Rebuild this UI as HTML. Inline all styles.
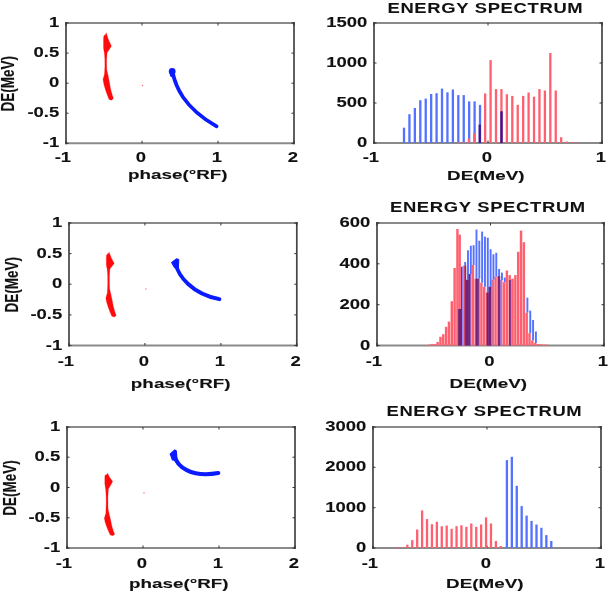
<!DOCTYPE html>
<html><head><meta charset="utf-8"><style>
html,body{margin:0;padding:0;background:#fff;}
svg{display:block;}
text{font-family:"Liberation Sans",sans-serif;font-weight:bold;fill:#111;stroke:#111;stroke-width:0.1px;}
svg{filter:blur(0.55px);}
</style></head><body>
<svg width="608" height="593" viewBox="0 0 608 593">
<rect width="608" height="593" fill="#fff"/>
<path d="M65,23 H295 M65,143.3 H295" stroke="#8a8a8a" stroke-width="2.1" fill="none"/>
<path d="M66,22 V144.3 M294,22 V144.3" stroke="#454545" stroke-width="1.7" fill="none"/>
<path d="M66.0,143.3 v-2.5 M66.0,23 v2.5" stroke="#333" stroke-width="1"/>
<text transform="translate(62.90,161.82) scale(1.320,1)" text-anchor="middle" font-size="14" >-1</text>
<path d="M142.0,143.3 v-2.5 M142.0,23 v2.5" stroke="#333" stroke-width="1"/>
<text transform="translate(140.90,161.82) scale(1.320,1)" text-anchor="middle" font-size="14" >0</text>
<path d="M218.0,143.3 v-2.5 M218.0,23 v2.5" stroke="#333" stroke-width="1"/>
<text transform="translate(216.90,161.82) scale(1.320,1)" text-anchor="middle" font-size="14" >1</text>
<path d="M294.0,143.3 v-2.5 M294.0,23 v2.5" stroke="#333" stroke-width="1"/>
<text transform="translate(292.90,161.82) scale(1.320,1)" text-anchor="middle" font-size="14" >2</text>
<path d="M66,143.3 h2.5 M294,143.3 h-2.5" stroke="#333" stroke-width="1"/>
<text transform="translate(59.20,147.30) scale(1.320,1)" text-anchor="end" font-size="14" >-1</text>
<path d="M66,113.2 h2.5 M294,113.2 h-2.5" stroke="#333" stroke-width="1"/>
<text transform="translate(59.20,117.23) scale(1.320,1)" text-anchor="end" font-size="14" >-0.5</text>
<path d="M66,83.2 h2.5 M294,83.2 h-2.5" stroke="#333" stroke-width="1"/>
<text transform="translate(59.20,87.15) scale(1.320,1)" text-anchor="end" font-size="14" >0</text>
<path d="M66,53.1 h2.5 M294,53.1 h-2.5" stroke="#333" stroke-width="1"/>
<text transform="translate(59.20,57.08) scale(1.320,1)" text-anchor="end" font-size="14" >0.5</text>
<path d="M66,23.0 h2.5 M294,23.0 h-2.5" stroke="#333" stroke-width="1"/>
<text transform="translate(59.20,27.00) scale(1.320,1)" text-anchor="end" font-size="14" >1</text>
<text transform="translate(177.80,179.48) scale(1.450,1)" text-anchor="middle" font-size="13.0" >phase(°RF)</text>
<text transform="translate(14.40,83.65) rotate(-90) scale(1,1.360)" text-anchor="middle" font-size="13.5">DE(MeV)</text>
<path d="M373,23 H603 M373,143 H603" stroke="#8a8a8a" stroke-width="2.1" fill="none"/>
<path d="M374,22 V144 M602,22 V144" stroke="#454545" stroke-width="1.7" fill="none"/>
<path d="M374.0,143 v-2.5 M374.0,23 v2.5" stroke="#333" stroke-width="1"/>
<text transform="translate(370.90,161.92) scale(1.320,1)" text-anchor="middle" font-size="14" >-1</text>
<path d="M488.0,143 v-2.5 M488.0,23 v2.5" stroke="#333" stroke-width="1"/>
<text transform="translate(486.90,161.92) scale(1.320,1)" text-anchor="middle" font-size="14" >0</text>
<path d="M602.0,143 v-2.5 M602.0,23 v2.5" stroke="#333" stroke-width="1"/>
<text transform="translate(600.90,161.92) scale(1.320,1)" text-anchor="middle" font-size="14" >1</text>
<path d="M374,143.0 h2.5 M602,143.0 h-2.5" stroke="#333" stroke-width="1"/>
<text transform="translate(367.20,147.00) scale(1.320,1)" text-anchor="end" font-size="14" >0</text>
<path d="M374,103.0 h2.5 M602,103.0 h-2.5" stroke="#333" stroke-width="1"/>
<text transform="translate(367.20,107.00) scale(1.320,1)" text-anchor="end" font-size="14" >500</text>
<path d="M374,63.0 h2.5 M602,63.0 h-2.5" stroke="#333" stroke-width="1"/>
<text transform="translate(367.20,67.00) scale(1.320,1)" text-anchor="end" font-size="14" >1000</text>
<path d="M374,23.0 h2.5 M602,23.0 h-2.5" stroke="#333" stroke-width="1"/>
<text transform="translate(367.20,27.00) scale(1.320,1)" text-anchor="end" font-size="14" >1500</text>
<text transform="translate(485.80,179.98) scale(1.450,1)" text-anchor="middle" font-size="13.0" >DE(MeV)</text>
<text transform="translate(485.40,12.86) scale(1.336,1)" text-anchor="middle" font-size="13.8" letter-spacing="0.5" style="stroke-width:0.05px">ENERGY SPECTRUM</text>
<path d="M68,223 H297.8 M68,345.5 H297.8" stroke="#8a8a8a" stroke-width="2.1" fill="none"/>
<path d="M69,222 V346.5 M296.8,222 V346.5" stroke="#454545" stroke-width="1.7" fill="none"/>
<path d="M69.0,345.5 v-2.5 M69.0,223 v2.5" stroke="#333" stroke-width="1"/>
<text transform="translate(65.90,366.32) scale(1.320,1)" text-anchor="middle" font-size="14" >-1</text>
<path d="M144.9,345.5 v-2.5 M144.9,223 v2.5" stroke="#333" stroke-width="1"/>
<text transform="translate(143.83,366.32) scale(1.320,1)" text-anchor="middle" font-size="14" >0</text>
<path d="M220.9,345.5 v-2.5 M220.9,223 v2.5" stroke="#333" stroke-width="1"/>
<text transform="translate(219.77,366.32) scale(1.320,1)" text-anchor="middle" font-size="14" >1</text>
<path d="M296.8,345.5 v-2.5 M296.8,223 v2.5" stroke="#333" stroke-width="1"/>
<text transform="translate(295.70,366.32) scale(1.320,1)" text-anchor="middle" font-size="14" >2</text>
<path d="M69,345.5 h2.5 M296.8,345.5 h-2.5" stroke="#333" stroke-width="1"/>
<text transform="translate(62.20,349.50) scale(1.320,1)" text-anchor="end" font-size="14" >-1</text>
<path d="M69,314.9 h2.5 M296.8,314.9 h-2.5" stroke="#333" stroke-width="1"/>
<text transform="translate(62.20,318.88) scale(1.320,1)" text-anchor="end" font-size="14" >-0.5</text>
<path d="M69,284.2 h2.5 M296.8,284.2 h-2.5" stroke="#333" stroke-width="1"/>
<text transform="translate(62.20,288.25) scale(1.320,1)" text-anchor="end" font-size="14" >0</text>
<path d="M69,253.6 h2.5 M296.8,253.6 h-2.5" stroke="#333" stroke-width="1"/>
<text transform="translate(62.20,257.62) scale(1.320,1)" text-anchor="end" font-size="14" >0.5</text>
<path d="M69,223.0 h2.5 M296.8,223.0 h-2.5" stroke="#333" stroke-width="1"/>
<text transform="translate(62.20,227.00) scale(1.320,1)" text-anchor="end" font-size="14" >1</text>
<text transform="translate(180.70,388.28) scale(1.450,1)" text-anchor="middle" font-size="13.0" >phase(°RF)</text>
<text transform="translate(17.60,284.75) rotate(-90) scale(1,1.360)" text-anchor="middle" font-size="13.5">DE(MeV)</text>
<path d="M376,223 H605 M376,345.5 H605" stroke="#8a8a8a" stroke-width="2.1" fill="none"/>
<path d="M377,222 V346.5 M604,222 V346.5" stroke="#454545" stroke-width="1.7" fill="none"/>
<path d="M377.0,345.5 v-2.5 M377.0,223 v2.5" stroke="#333" stroke-width="1"/>
<text transform="translate(373.90,366.02) scale(1.320,1)" text-anchor="middle" font-size="14" >-1</text>
<path d="M490.5,345.5 v-2.5 M490.5,223 v2.5" stroke="#333" stroke-width="1"/>
<text transform="translate(489.40,366.02) scale(1.320,1)" text-anchor="middle" font-size="14" >0</text>
<path d="M604.0,345.5 v-2.5 M604.0,223 v2.5" stroke="#333" stroke-width="1"/>
<text transform="translate(602.90,366.02) scale(1.320,1)" text-anchor="middle" font-size="14" >1</text>
<path d="M377,345.5 h2.5 M604,345.5 h-2.5" stroke="#333" stroke-width="1"/>
<text transform="translate(370.20,349.50) scale(1.320,1)" text-anchor="end" font-size="14" >0</text>
<path d="M377,304.7 h2.5 M604,304.7 h-2.5" stroke="#333" stroke-width="1"/>
<text transform="translate(370.20,308.67) scale(1.320,1)" text-anchor="end" font-size="14" >200</text>
<path d="M377,263.8 h2.5 M604,263.8 h-2.5" stroke="#333" stroke-width="1"/>
<text transform="translate(370.20,267.83) scale(1.320,1)" text-anchor="end" font-size="14" >400</text>
<path d="M377,223.0 h2.5 M604,223.0 h-2.5" stroke="#333" stroke-width="1"/>
<text transform="translate(370.20,227.00) scale(1.320,1)" text-anchor="end" font-size="14" >600</text>
<text transform="translate(488.30,388.28) scale(1.450,1)" text-anchor="middle" font-size="13.0" >DE(MeV)</text>
<text transform="translate(487.90,212.26) scale(1.336,1)" text-anchor="middle" font-size="13.8" letter-spacing="0.5" style="stroke-width:0.05px">ENERGY SPECTRUM</text>
<path d="M66,427 H296 M66,548 H296" stroke="#8a8a8a" stroke-width="2.1" fill="none"/>
<path d="M67,426 V549 M295,426 V549" stroke="#454545" stroke-width="1.7" fill="none"/>
<path d="M67.0,548 v-2.5 M67.0,427 v2.5" stroke="#333" stroke-width="1"/>
<text transform="translate(63.90,567.82) scale(1.320,1)" text-anchor="middle" font-size="14" >-1</text>
<path d="M143.0,548 v-2.5 M143.0,427 v2.5" stroke="#333" stroke-width="1"/>
<text transform="translate(141.90,567.82) scale(1.320,1)" text-anchor="middle" font-size="14" >0</text>
<path d="M219.0,548 v-2.5 M219.0,427 v2.5" stroke="#333" stroke-width="1"/>
<text transform="translate(217.90,567.82) scale(1.320,1)" text-anchor="middle" font-size="14" >1</text>
<path d="M295.0,548 v-2.5 M295.0,427 v2.5" stroke="#333" stroke-width="1"/>
<text transform="translate(293.90,567.82) scale(1.320,1)" text-anchor="middle" font-size="14" >2</text>
<path d="M67,548.0 h2.5 M295,548.0 h-2.5" stroke="#333" stroke-width="1"/>
<text transform="translate(60.20,552.00) scale(1.320,1)" text-anchor="end" font-size="14" >-1</text>
<path d="M67,517.8 h2.5 M295,517.8 h-2.5" stroke="#333" stroke-width="1"/>
<text transform="translate(60.20,521.75) scale(1.320,1)" text-anchor="end" font-size="14" >-0.5</text>
<path d="M67,487.5 h2.5 M295,487.5 h-2.5" stroke="#333" stroke-width="1"/>
<text transform="translate(60.20,491.50) scale(1.320,1)" text-anchor="end" font-size="14" >0</text>
<path d="M67,457.2 h2.5 M295,457.2 h-2.5" stroke="#333" stroke-width="1"/>
<text transform="translate(60.20,461.25) scale(1.320,1)" text-anchor="end" font-size="14" >0.5</text>
<path d="M67,427.0 h2.5 M295,427.0 h-2.5" stroke="#333" stroke-width="1"/>
<text transform="translate(60.20,431.00) scale(1.320,1)" text-anchor="end" font-size="14" >1</text>
<text transform="translate(178.80,588.28) scale(1.450,1)" text-anchor="middle" font-size="13.0" >phase(°RF)</text>
<text transform="translate(15.90,488.00) rotate(-90) scale(1,1.360)" text-anchor="middle" font-size="13.5">DE(MeV)</text>
<path d="M372,427 H602 M372,548 H602" stroke="#8a8a8a" stroke-width="2.1" fill="none"/>
<path d="M373,426 V549 M601,426 V549" stroke="#454545" stroke-width="1.7" fill="none"/>
<path d="M373.0,548 v-2.5 M373.0,427 v2.5" stroke="#333" stroke-width="1"/>
<text transform="translate(369.90,567.82) scale(1.320,1)" text-anchor="middle" font-size="14" >-1</text>
<path d="M487.0,548 v-2.5 M487.0,427 v2.5" stroke="#333" stroke-width="1"/>
<text transform="translate(485.90,567.82) scale(1.320,1)" text-anchor="middle" font-size="14" >0</text>
<path d="M601.0,548 v-2.5 M601.0,427 v2.5" stroke="#333" stroke-width="1"/>
<text transform="translate(599.90,567.82) scale(1.320,1)" text-anchor="middle" font-size="14" >1</text>
<path d="M373,548.0 h2.5 M601,548.0 h-2.5" stroke="#333" stroke-width="1"/>
<text transform="translate(366.20,552.00) scale(1.320,1)" text-anchor="end" font-size="14" >0</text>
<path d="M373,507.7 h2.5 M601,507.7 h-2.5" stroke="#333" stroke-width="1"/>
<text transform="translate(366.20,511.67) scale(1.320,1)" text-anchor="end" font-size="14" >1000</text>
<path d="M373,467.3 h2.5 M601,467.3 h-2.5" stroke="#333" stroke-width="1"/>
<text transform="translate(366.20,471.33) scale(1.320,1)" text-anchor="end" font-size="14" >2000</text>
<path d="M373,427.0 h2.5 M601,427.0 h-2.5" stroke="#333" stroke-width="1"/>
<text transform="translate(366.20,431.00) scale(1.320,1)" text-anchor="end" font-size="14" >3000</text>
<text transform="translate(484.80,588.28) scale(1.450,1)" text-anchor="middle" font-size="13.0" >DE(MeV)</text>
<text transform="translate(484.40,416.46) scale(1.336,1)" text-anchor="middle" font-size="13.8" letter-spacing="0.5" style="stroke-width:0.05px">ENERGY SPECTRUM</text>
<path d="M106.3,32.8 L107.0,35.3 L108.5,39.7 L111.4,46.0 L109.3,49.5 L107.1,52.8 L106.6,60.2 L106.8,70.1 L108.0,75.0 L109.4,81.9 L110.5,88.4 L111.9,93.8 L113.4,98.4 L111.6,100.2 L109.0,99.4 L107.2,94.8 L105.5,89.9 L103.9,84.4 L103.0,79.5 L104.5,74.0 L104.9,66.1 L104.8,58.2 L104.4,53.3 L103.5,48.2 L103.5,41.2 L103.6,36.8 L104.6,34.9 L105.4,35.1Z" fill="#ff0a0a" stroke="#ff0a0a" stroke-width="0.25" stroke-linejoin="round"/>
<path d="M109.1,252.0 L109.8,254.1 L111.3,257.9 L114.2,263.2 L112.1,266.2 L109.9,268.9 L109.4,277.0 L109.6,288.4 L110.8,293.9 L112.2,300.3 L113.3,306.2 L114.7,311.2 L116.2,315.4 L114.4,317.0 L111.8,316.3 L110.0,312.1 L108.3,307.5 L106.7,302.5 L105.8,298.0 L107.3,293.0 L107.7,283.9 L107.6,274.7 L107.2,269.4 L106.3,265.1 L106.3,259.1 L106.4,255.4 L107.4,253.8 L108.2,253.9Z" fill="#ff0a0a" stroke="#ff0a0a" stroke-width="0.25" stroke-linejoin="round"/>
<path d="M107.6,473.3 L108.3,474.8 L109.8,477.6 L112.7,481.5 L110.6,485.3 L108.4,489.1 L107.9,497.7 L108.1,509.1 L109.3,514.4 L110.7,520.3 L111.8,525.8 L113.2,530.4 L114.7,534.3 L112.9,535.8 L110.3,535.1 L108.5,531.3 L106.8,527.1 L105.2,522.4 L104.3,518.2 L105.8,513.6 L106.2,504.5 L106.1,495.4 L105.7,489.7 L104.8,483.8 L104.8,478.5 L104.9,475.8 L105.9,474.6 L106.7,474.7Z" fill="#ff0a0a" stroke="#ff0a0a" stroke-width="0.25" stroke-linejoin="round"/>
<path d="M172.5,72 C175.5,86 183,107 216.6,126.4" fill="none" stroke="#0a1cff" stroke-width="3.7" stroke-linecap="round"/>
<circle cx="172.2" cy="71.5" r="3.4" fill="#0a1cff"/>
<ellipse cx="172.4" cy="74" rx="2.6" ry="3.2" fill="#0a1cff"/>
<path d="M175.5,263 C178,276 192,294 219.4,299.2" fill="none" stroke="#0a1cff" stroke-width="3.9" stroke-linecap="round"/>
<path d="M171.5,262.5 L176.5,258.7 L178.8,259.5 L178.4,267.5 L174.5,267.8 Z" fill="#0a1cff" stroke="#0a1cff" stroke-width="1" stroke-linejoin="round"/>
<path d="M174.5,456 C177,466 190,478 218.3,473.1" fill="none" stroke="#0a1cff" stroke-width="4.1" stroke-linecap="round"/>
<path d="M170.3,454 L174.8,450 L176.3,451 L177,460.5 L172.5,460 Z" fill="#0a1cff" stroke="#0a1cff" stroke-width="1.2" stroke-linejoin="round"/>
<circle cx="142.5" cy="85.5" r="0.7" fill="#ff6060"/>
<circle cx="146" cy="289" r="0.7" fill="#ff6060"/>
<circle cx="144" cy="493" r="0.7" fill="#ff6060"/>
<rect x="402.85" y="127.70" width="2.3" height="15.30" fill="#5472ff" />
<rect x="408.28" y="114.20" width="2.3" height="28.80" fill="#5472ff" />
<rect x="413.71" y="108.00" width="2.3" height="35.00" fill="#5472ff" />
<rect x="419.14" y="100.20" width="2.3" height="42.80" fill="#5472ff" />
<rect x="424.57" y="98.60" width="2.3" height="44.40" fill="#5472ff" />
<rect x="430.00" y="94.00" width="2.3" height="49.00" fill="#5472ff" />
<rect x="435.43" y="93.20" width="2.3" height="49.80" fill="#5472ff" />
<rect x="440.86" y="88.60" width="2.3" height="54.40" fill="#5472ff" />
<rect x="446.29" y="92.30" width="2.3" height="50.70" fill="#5472ff" />
<rect x="451.72" y="89.50" width="2.3" height="53.50" fill="#5472ff" />
<rect x="457.15" y="95.10" width="2.3" height="47.90" fill="#5472ff" />
<rect x="462.58" y="95.10" width="2.3" height="47.90" fill="#5472ff" />
<rect x="468.01" y="101.40" width="2.3" height="41.60" fill="#5472ff" />
<rect x="473.44" y="101.40" width="2.3" height="41.60" fill="#5472ff" />
<rect x="478.87" y="104.90" width="2.3" height="38.10" fill="#5472ff" />
<rect x="500.59" y="111.30" width="2.3" height="31.70" fill="#5472ff" />
<rect x="456.85" y="142.20" width="2.3" height="0.80" fill="#ff6070" />
<rect x="462.28" y="142.20" width="2.3" height="0.80" fill="#ff6070" />
<rect x="467.71" y="138.40" width="2.3" height="4.60" fill="#ff6070" />
<rect x="473.14" y="133.30" width="2.3" height="9.70" fill="#ff6070" />
<rect x="484.00" y="93.50" width="2.3" height="49.50" fill="#ff6070" />
<rect x="489.43" y="60.10" width="2.3" height="82.90" fill="#ff6070" />
<rect x="494.86" y="89.10" width="2.3" height="53.90" fill="#ff6070" />
<rect x="505.72" y="94.20" width="2.3" height="48.80" fill="#ff6070" />
<rect x="511.15" y="95.90" width="2.3" height="47.10" fill="#ff6070" />
<rect x="516.58" y="104.80" width="2.3" height="38.20" fill="#ff6070" />
<rect x="522.01" y="95.90" width="2.3" height="47.10" fill="#ff6070" />
<rect x="527.44" y="92.50" width="2.3" height="50.50" fill="#ff6070" />
<rect x="532.87" y="96.70" width="2.3" height="46.30" fill="#ff6070" />
<rect x="538.30" y="89.10" width="2.3" height="53.90" fill="#ff6070" />
<rect x="543.73" y="90.50" width="2.3" height="52.50" fill="#ff6070" />
<rect x="549.16" y="53.00" width="2.3" height="90.00" fill="#ff6070" />
<rect x="554.59" y="90.50" width="2.3" height="52.50" fill="#ff6070" />
<rect x="560.02" y="137.20" width="2.3" height="5.80" fill="#ff6070" />
<rect x="565.45" y="141.50" width="2.3" height="1.50" fill="#ff6070" />
<rect x="570.88" y="142.00" width="2.3" height="1.00" fill="#ff6070" />
<rect x="576.31" y="142.30" width="2.3" height="0.70" fill="#ff6070" />
<rect x="500.29" y="89.10" width="2.3" height="53.90" fill="#ff6070" />
<rect x="478.57" y="124.60" width="2.3" height="18.40" fill="#3c1690" />
<rect x="500.29" y="111.30" width="2.3" height="31.70" fill="#3c1690" />
<rect x="396.35" y="547.00" width="2.3" height="1.00" fill="#ff6070" />
<rect x="401.27" y="547.00" width="2.3" height="1.00" fill="#ff6070" />
<rect x="406.19" y="544.70" width="2.3" height="3.30" fill="#ff6070" />
<rect x="411.11" y="540.10" width="2.3" height="7.90" fill="#ff6070" />
<rect x="416.03" y="529.50" width="2.3" height="18.50" fill="#ff6070" />
<rect x="420.95" y="510.40" width="2.3" height="37.60" fill="#ff6070" />
<rect x="425.87" y="519.10" width="2.3" height="28.90" fill="#ff6070" />
<rect x="430.79" y="524.20" width="2.3" height="23.80" fill="#ff6070" />
<rect x="435.71" y="521.70" width="2.3" height="26.30" fill="#ff6070" />
<rect x="440.63" y="526.20" width="2.3" height="21.80" fill="#ff6070" />
<rect x="445.55" y="525.50" width="2.3" height="22.50" fill="#ff6070" />
<rect x="450.47" y="528.80" width="2.3" height="19.20" fill="#ff6070" />
<rect x="455.39" y="526.20" width="2.3" height="21.80" fill="#ff6070" />
<rect x="460.31" y="525.30" width="2.3" height="22.70" fill="#ff6070" />
<rect x="465.23" y="526.80" width="2.3" height="21.20" fill="#ff6070" />
<rect x="470.15" y="523.50" width="2.3" height="24.50" fill="#ff6070" />
<rect x="475.07" y="526.80" width="2.3" height="21.20" fill="#ff6070" />
<rect x="479.99" y="524.50" width="2.3" height="23.50" fill="#ff6070" />
<rect x="484.91" y="517.40" width="2.3" height="30.60" fill="#ff6070" />
<rect x="489.83" y="523.50" width="2.3" height="24.50" fill="#ff6070" />
<rect x="494.75" y="541.00" width="2.3" height="7.00" fill="#ff6070" />
<rect x="499.67" y="546.00" width="2.3" height="2.00" fill="#ff6070" />
<rect x="505.75" y="460.10" width="2.3" height="87.90" fill="#5472ff" />
<rect x="510.68" y="456.80" width="2.3" height="91.20" fill="#5472ff" />
<rect x="515.61" y="485.80" width="2.3" height="62.20" fill="#5472ff" />
<rect x="520.54" y="506.10" width="2.3" height="41.90" fill="#5472ff" />
<rect x="525.47" y="515.60" width="2.3" height="32.40" fill="#5472ff" />
<rect x="530.40" y="520.90" width="2.3" height="27.10" fill="#5472ff" />
<rect x="535.33" y="524.50" width="2.3" height="23.50" fill="#5472ff" />
<rect x="540.26" y="527.80" width="2.3" height="20.20" fill="#5472ff" />
<rect x="545.19" y="535.10" width="2.3" height="12.90" fill="#5472ff" />
<rect x="550.12" y="541.00" width="2.3" height="7.00" fill="#5472ff" />
<rect x="425.08" y="345" width="2.45" height="0.50" fill="#ff6070"/>
<rect x="427.91" y="344.6" width="2.45" height="0.90" fill="#ff6070"/>
<rect x="430.74" y="343.9" width="2.45" height="1.60" fill="#ff6070"/>
<rect x="433.57" y="344.1" width="2.45" height="1.40" fill="#ff6070"/>
<rect x="436.40" y="342" width="2.45" height="3.50" fill="#ff6070"/>
<rect x="439.23" y="336.8" width="2.45" height="8.70" fill="#ff6070"/>
<rect x="442.06" y="334.2" width="2.45" height="11.30" fill="#ff6070"/>
<rect x="444.89" y="326.8" width="2.45" height="18.70" fill="#ff6070"/>
<rect x="447.72" y="321.6" width="2.45" height="23.90" fill="#ff6070"/>
<rect x="450.55" y="301.2" width="2.45" height="44.30" fill="#ff6070"/>
<rect x="453.38" y="268" width="2.45" height="77.50" fill="#ff6070"/>
<rect x="456.21" y="229" width="2.45" height="116.50" fill="#ff6070"/>
<rect x="458.44" y="234.6" width="2.45" height="110.90" fill="#ff6070"/>
<rect x="460.77" y="267" width="2.45" height="78.50" fill="#ff6070"/>
<rect x="463.20" y="265.5" width="2.45" height="80.00" fill="#ff6070"/>
<rect x="466.03" y="279.9" width="2.45" height="65.60" fill="#ff6070"/>
<rect x="468.86" y="274.1" width="2.45" height="71.40" fill="#ff6070"/>
<rect x="471.69" y="265" width="2.45" height="80.50" fill="#ff6070"/>
<rect x="474.52" y="278.6" width="2.45" height="66.90" fill="#ff6070"/>
<rect x="477.35" y="278.7" width="2.45" height="66.80" fill="#ff6070"/>
<rect x="480.18" y="282.7" width="2.45" height="62.80" fill="#ff6070"/>
<rect x="483.01" y="286.8" width="2.45" height="58.70" fill="#ff6070"/>
<rect x="485.84" y="292.5" width="2.45" height="53.00" fill="#ff6070"/>
<rect x="488.67" y="286.8" width="2.45" height="58.70" fill="#ff6070"/>
<rect x="491.50" y="279.7" width="2.45" height="65.80" fill="#ff6070"/>
<rect x="494.33" y="276.6" width="2.45" height="68.90" fill="#ff6070"/>
<rect x="497.16" y="276.1" width="2.45" height="69.40" fill="#ff6070"/>
<rect x="499.99" y="280" width="2.45" height="65.50" fill="#ff6070"/>
<rect x="502.82" y="282.2" width="2.45" height="63.30" fill="#ff6070"/>
<rect x="505.65" y="270.5" width="2.45" height="75.00" fill="#ff6070"/>
<rect x="508.48" y="275.1" width="2.45" height="70.40" fill="#ff6070"/>
<rect x="511.31" y="278.7" width="2.45" height="66.80" fill="#ff6070"/>
<rect x="514.14" y="275.1" width="2.45" height="70.40" fill="#ff6070"/>
<rect x="516.97" y="251.8" width="2.45" height="93.70" fill="#ff6070"/>
<rect x="519.80" y="230.6" width="2.45" height="114.90" fill="#ff6070"/>
<rect x="522.63" y="242.2" width="2.45" height="103.30" fill="#ff6070"/>
<rect x="525.46" y="312.7" width="2.45" height="32.80" fill="#ff6070"/>
<rect x="528.29" y="333.1" width="2.45" height="12.40" fill="#ff6070"/>
<rect x="531.12" y="340.4" width="2.45" height="5.10" fill="#ff6070"/>
<rect x="533.95" y="343" width="2.45" height="2.50" fill="#ff6070"/>
<rect x="536.78" y="344" width="2.45" height="1.50" fill="#ff6070"/>
<rect x="539.61" y="344.2" width="2.45" height="1.30" fill="#ff6070"/>
<rect x="542.44" y="344.5" width="2.45" height="1.00" fill="#ff6070"/>
<rect x="545.27" y="344.6" width="2.45" height="0.90" fill="#ff6070"/>
<rect x="461.37" y="266.5" width="1.9" height="0.50" fill="#5472ff"/>
<rect x="464.20" y="262" width="1.9" height="3.50" fill="#5472ff"/>
<rect x="467.03" y="250.3" width="1.9" height="29.60" fill="#5472ff"/>
<rect x="469.86" y="245.7" width="1.9" height="28.40" fill="#5472ff"/>
<rect x="472.69" y="245.2" width="1.9" height="19.80" fill="#5472ff"/>
<rect x="475.52" y="229.6" width="1.9" height="49.00" fill="#5472ff"/>
<rect x="478.35" y="240.7" width="1.9" height="38.00" fill="#5472ff"/>
<rect x="481.18" y="231.6" width="1.9" height="51.10" fill="#5472ff"/>
<rect x="484.01" y="236.6" width="1.9" height="50.20" fill="#5472ff"/>
<rect x="486.84" y="237.7" width="1.9" height="54.80" fill="#5472ff"/>
<rect x="489.67" y="249.3" width="1.9" height="37.50" fill="#5472ff"/>
<rect x="492.50" y="254.3" width="1.9" height="25.40" fill="#5472ff"/>
<rect x="495.33" y="252.8" width="1.9" height="23.80" fill="#5472ff"/>
<rect x="498.16" y="269" width="1.9" height="7.10" fill="#5472ff"/>
<rect x="500.99" y="272.6" width="1.9" height="7.40" fill="#5472ff"/>
<rect x="503.82" y="277.6" width="1.9" height="4.60" fill="#5472ff"/>
<rect x="526.46" y="297.6" width="1.9" height="15.10" fill="#5472ff"/>
<rect x="529.29" y="310.6" width="1.9" height="22.50" fill="#5472ff"/>
<rect x="532.12" y="320" width="1.9" height="20.40" fill="#5472ff"/>
<rect x="534.95" y="331.5" width="1.9" height="11.50" fill="#5472ff"/>
<rect x="458.20" y="309.00" width="0.52" height="36.50" fill="#460a72"/>
<rect x="458.70" y="309.00" width="0.52" height="36.50" fill="#460a72"/>
<rect x="459.20" y="309.00" width="0.52" height="36.50" fill="#460a72"/>
<rect x="459.70" y="309.00" width="0.52" height="36.50" fill="#460a72"/>
<rect x="460.20" y="309.00" width="0.52" height="36.50" fill="#460a72"/>
<rect x="460.70" y="309.00" width="0.52" height="36.50" fill="#460a72"/>
<rect x="461.20" y="267.00" width="0.52" height="78.50" fill="#460a72"/>
<rect x="461.70" y="267.00" width="0.32" height="78.50" fill="#460a72"/>
<rect x="462.00" y="267.00" width="0.9" height="78.50" fill="#8d8cff"/>
<rect x="464.70" y="265.50" width="0.52" height="80.00" fill="#460a72"/>
<rect x="465.20" y="265.50" width="0.52" height="80.00" fill="#460a72"/>
<rect x="465.70" y="265.50" width="0.52" height="80.00" fill="#460a72"/>
<rect x="466.20" y="279.90" width="0.52" height="65.60" fill="#460a72"/>
<rect x="466.70" y="279.90" width="0.52" height="65.60" fill="#460a72"/>
<rect x="467.20" y="279.90" width="0.52" height="65.60" fill="#460a72"/>
<rect x="467.70" y="279.90" width="0.52" height="65.60" fill="#460a72"/>
<rect x="468.20" y="279.90" width="0.52" height="65.60" fill="#460a72"/>
<rect x="468.70" y="274.10" width="0.52" height="71.40" fill="#460a72"/>
<rect x="469.20" y="274.10" width="0.52" height="71.40" fill="#460a72"/>
<rect x="469.70" y="274.10" width="0.52" height="71.40" fill="#460a72"/>
<rect x="470.20" y="274.10" width="0.32" height="71.40" fill="#460a72"/>
<rect x="470.50" y="274.10" width="0.9" height="71.40" fill="#8d8cff"/>
<rect x="475.70" y="278.60" width="0.52" height="66.90" fill="#460a72"/>
<rect x="476.20" y="278.60" width="0.52" height="66.90" fill="#460a72"/>
<rect x="476.70" y="278.60" width="0.52" height="66.90" fill="#460a72"/>
<rect x="477.20" y="278.70" width="0.52" height="66.80" fill="#460a72"/>
<rect x="477.70" y="278.70" width="0.52" height="66.80" fill="#460a72"/>
<rect x="478.20" y="278.70" width="0.52" height="66.80" fill="#460a72"/>
<rect x="478.70" y="278.70" width="0.12" height="66.80" fill="#460a72"/>
<rect x="478.80" y="278.70" width="0.9" height="66.80" fill="#8d8cff"/>
<rect x="486.70" y="292.50" width="0.52" height="53.00" fill="#460a72"/>
<rect x="487.20" y="292.50" width="0.52" height="53.00" fill="#460a72"/>
<rect x="487.70" y="292.50" width="0.52" height="53.00" fill="#460a72"/>
<rect x="488.20" y="292.50" width="0.52" height="53.00" fill="#460a72"/>
<rect x="488.70" y="286.80" width="0.52" height="58.70" fill="#460a72"/>
<rect x="489.20" y="286.80" width="0.52" height="58.70" fill="#460a72"/>
<rect x="489.70" y="286.80" width="0.52" height="58.70" fill="#460a72"/>
<rect x="490.20" y="286.80" width="0.52" height="58.70" fill="#460a72"/>
<rect x="490.70" y="286.80" width="0.52" height="58.70" fill="#460a72"/>
<rect x="491.20" y="286.80" width="0.22" height="58.70" fill="#460a72"/>
<rect x="491.40" y="279.70" width="0.9" height="65.80" fill="#8d8cff"/>
<rect x="498.20" y="276.10" width="0.52" height="69.40" fill="#460a72"/>
<rect x="498.70" y="276.10" width="0.52" height="69.40" fill="#460a72"/>
<rect x="499.20" y="276.10" width="0.52" height="69.40" fill="#460a72"/>
<rect x="499.70" y="276.10" width="0.52" height="69.40" fill="#460a72"/>
<rect x="500.20" y="280.00" width="0.12" height="65.50" fill="#460a72"/>
<rect x="500.30" y="280.00" width="0.9" height="65.50" fill="#8d8cff"/>
<rect x="509.20" y="280.00" width="0.52" height="65.50" fill="#460a72"/>
<rect x="509.70" y="280.00" width="0.52" height="65.50" fill="#460a72"/>
<rect x="510.20" y="280.00" width="0.52" height="65.50" fill="#460a72"/>
<rect x="510.70" y="280.00" width="0.12" height="65.50" fill="#460a72"/>
<rect x="510.80" y="280.00" width="0.9" height="65.50" fill="#8d8cff"/>
</svg></body></html>
